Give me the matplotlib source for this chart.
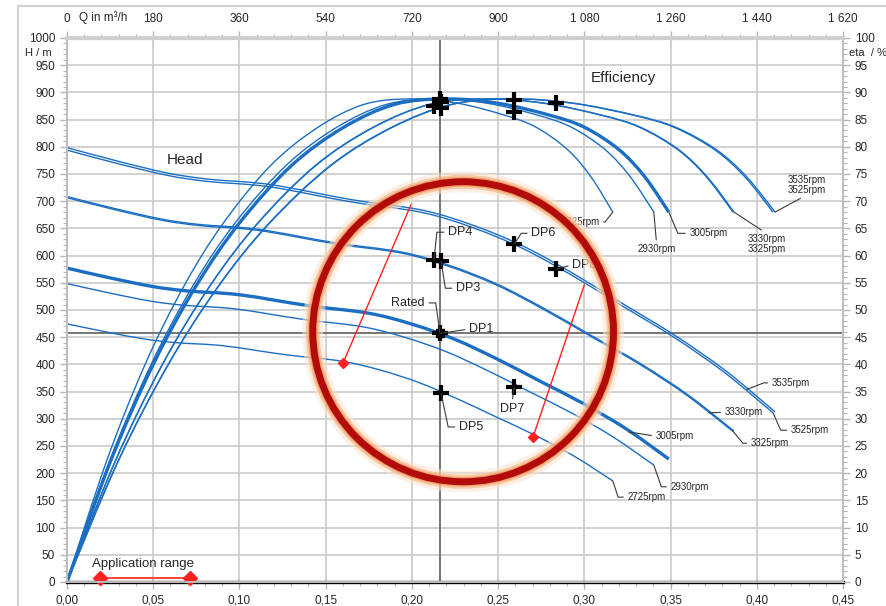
import matplotlib
matplotlib.use('Agg')
import matplotlib.pyplot as plt
import numpy as np
from matplotlib.patches import Ellipse, Rectangle, PathPatch
from matplotlib.path import Path
from matplotlib.ticker import MultipleLocator, FuncFormatter

plt.rcParams['font.family'] = ['Liberation Sans', 'DejaVu Sans']

# --- head curves H(Q), Q in m3/s, H in m ---
qh_2725 = [0, 0.0227, 0.0453, 0.0635, 0.0907, 0.1270, 0.1587, 0.1814, 0.2040, 0.2267, 0.2494, 0.2720, 0.2947, 0.3165]
h_2725 = [474.5, 459.7, 446.5, 439.9, 434.2, 417.7, 406.2, 389.8, 366.7, 336.3, 302.6, 268.9, 230.2, 185.8]
qh_2930 = [0, 0.0244, 0.0488, 0.0683, 0.0975, 0.1365, 0.1706, 0.1950, 0.2194, 0.2438, 0.2681, 0.2925, 0.3169, 0.3403]
h_2930 = [548.6, 531.4, 516.2, 508.6, 502.0, 483.0, 469.6, 450.6, 424.0, 388.8, 349.9, 310.9, 266.2, 214.9]
qh_3005 = [0, 0.025, 0.05, 0.07, 0.10, 0.14, 0.175, 0.20, 0.225, 0.25, 0.275, 0.30, 0.325, 0.349]
h_3005 = [577, 559, 543, 535, 528, 508, 494, 474, 446, 409, 368, 327, 280, 226]
qh_3325 = [0, 0.0277, 0.0553, 0.0775, 0.1107, 0.1549, 0.1936, 0.2213, 0.2490, 0.2766, 0.3043, 0.3320, 0.3596, 0.3862]
h_3325 = [706.4, 684.4, 664.8, 655.0, 646.4, 621.9, 604.8, 580.3, 546.0, 500.7, 450.5, 400.3, 342.8, 276.7]
qh_3330 = [0, 0.0277, 0.0554, 0.0776, 0.1108, 0.1551, 0.1939, 0.2216, 0.2493, 0.2770, 0.3047, 0.3325, 0.3602, 0.3868]
h_3330 = [708.6, 686.5, 666.8, 657.0, 648.4, 623.8, 606.6, 582.1, 547.7, 502.3, 451.9, 401.6, 343.8, 277.5]
qh_3525 = [0, 0.0293, 0.0587, 0.0821, 0.1173, 0.1642, 0.2053, 0.2346, 0.2639, 0.2933, 0.3226, 0.3519, 0.3812, 0.4094]
h_3525 = [793.9, 769.2, 747.2, 736.2, 726.5, 699.0, 679.7, 652.2, 613.7, 562.8, 506.4, 450.0, 385.3, 311.0]
qh_3535 = [0, 0.0294, 0.0588, 0.0824, 0.1176, 0.1647, 0.2059, 0.2353, 0.2647, 0.2941, 0.3235, 0.3529, 0.3823, 0.4106]
h_3535 = [798.5, 773.6, 751.4, 740.4, 730.7, 703.0, 683.6, 655.9, 617.2, 566.0, 509.3, 452.5, 387.5, 312.7]

# --- efficiency curves eta(Q), same eta levels for every speed ---
eta_levels = [0, 22, 40, 54.5, 66, 76.5, 83.5, 87.8, 88.8, 88.0, 85.8, 83.6, 79.5, 74.5, 68]
qe_2725 = [0, 0.0227, 0.0453, 0.0680, 0.0907, 0.1179, 0.1451, 0.1723, 0.1995, 0.2267, 0.2539, 0.2720, 0.2902, 0.3038, 0.3165]
qe_2930 = [0, 0.0244, 0.0488, 0.0731, 0.0975, 0.1268, 0.1560, 0.1853, 0.2145, 0.2438, 0.2730, 0.2925, 0.3120, 0.3266, 0.3403]
qe_3005 = [0, 0.025, 0.05, 0.075, 0.10, 0.13, 0.16, 0.19, 0.22, 0.25, 0.28, 0.30, 0.32, 0.335, 0.349]
qe_3325 = [0, 0.0277, 0.0553, 0.0830, 0.1107, 0.1438, 0.1770, 0.2102, 0.2434, 0.2766, 0.3098, 0.3319, 0.3541, 0.3707, 0.3862]
qe_3330 = [0, 0.0277, 0.0554, 0.0831, 0.1108, 0.1441, 0.1773, 0.2106, 0.2438, 0.2770, 0.3103, 0.3325, 0.3546, 0.3712, 0.3868]
qe_3525 = [0, 0.0293, 0.0587, 0.0880, 0.1173, 0.1525, 0.1877, 0.2229, 0.2581, 0.2933, 0.3285, 0.3519, 0.3754, 0.3930, 0.4094]
qe_3535 = [0, 0.0294, 0.0588, 0.0882, 0.1176, 0.1529, 0.1882, 0.2235, 0.2588, 0.2941, 0.3294, 0.3529, 0.3764, 0.3941, 0.4106]

# --- duty points ---
dp_names = ['DP1', 'DP3', 'DP4', 'DP5', 'DP6', 'DP7', 'DP8']
dp_q = [0.2163, 0.2169, 0.2128, 0.2169, 0.2593, 0.2593, 0.2837]
dp_h = [457, 590, 592, 347, 621, 358, 575]
dp_eta = [88.8, 88.2, 87.5, 87.2, 88.6, 86.4, 88.0]

rated_q = 0.2163
rated_h = 458

# operating range limits (red lines)
lim_left_q = [0.160, 0.1994]
lim_left_h = [402, 693]
lim_right_q = [0.2703, 0.300]
lim_right_h = [267, 546]
app_range_q = [0.0192, 0.0715]
app_range_h = [8, 8]

blue = '#1b6ec2'
grid_c = '#c9c9c9'
tick_c = '#b5b5b5'
txt_c = '#262626'


def smooth_path(xs, ys):
    # smoothed line through the points (like a spreadsheet "smoothed line")
    p = np.column_stack([xs, ys])
    n = len(p)
    verts, codes = [p[0]], [Path.MOVETO]
    for i in range(n - 1):
        p0 = p[i - 1] if i > 0 else p[i]
        p3 = p[i + 2] if i + 2 < n else p[i + 1]
        verts += [p[i] + (p[i + 1] - p0) / 6, p[i + 1] - (p3 - p[i]) / 6, p[i + 1]]
        codes += [Path.CURVE4] * 3
    return Path(verts, codes)


fig = plt.figure(figsize=(8.87, 6.06), dpi=100)
fig.add_artist(Rectangle((18/887, -0.1), 1.2, (600/606) + 0.1, transform=fig.transFigure,
                         fill=False, ec='#d2d2d2', lw=1.5))
ax = fig.add_axes([67/887, 24/606, 776/887, 544/606])
ax.set_xlim(0, 0.45)
ax.set_ylim(0, 1000)
ax2 = ax.twinx()
ax2.set_ylim(0, 100)
ax3 = ax.twiny()
ax3.set_xlim(0, 1620)

ax.set_axisbelow(True)
ax.grid(True, which='major', color=grid_c, lw=1.2)
ax.xaxis.set_major_locator(MultipleLocator(0.05))
ax.xaxis.set_minor_locator(MultipleLocator(0.01))
ax.yaxis.set_major_locator(MultipleLocator(50))
ax.yaxis.set_minor_locator(MultipleLocator(10))
ax.xaxis.set_major_formatter(FuncFormatter(lambda v, p: f'{v:.2f}'.replace('.', ',')))
ax2.yaxis.set_major_locator(MultipleLocator(5))
ax2.yaxis.set_minor_locator(MultipleLocator(1))
ax3.xaxis.set_major_locator(MultipleLocator(180))
ax3.xaxis.set_minor_locator(MultipleLocator(36))
ax3.xaxis.set_major_formatter(FuncFormatter(lambda v, p: f'{int(round(v)):,}'.replace(',', ' ')))

for a in (ax, ax2, ax3):
    a.tick_params(which='both', colors=tick_c, labelcolor=txt_c, labelsize=8.5)
    a.tick_params(which='major', length=5, width=1)
    a.tick_params(which='minor', length=3, width=0.8)
    for s in a.spines.values():
        s.set_color('#bdbdbd')
        s.set_linewidth(1.2)
ax.spines['bottom'].set_color('black')
ax.spines['bottom'].set_linewidth(2.4)
ax3.spines['top'].set_color('#cfcfcf')
ax3.spines['top'].set_linewidth(3)
ax.tick_params(axis='x', pad=4)
ax3.tick_params(axis='x', pad=4)

ax.text(-0.009, 972, 'H / m', ha='right', va='center', fontsize=8, color=txt_c)
ax.text(0.4535, 972, 'eta  / %', ha='left', va='center', fontsize=8, color=txt_c)
ax.text(0.0072, 1037, 'Q in m³/h', ha='left', va='center', fontsize=8.5, color=txt_c)

# reference cross lines through rated point
ax.axvline(rated_q, color='#6a6a6a', lw=1.3, zorder=2)
ax.axhline(rated_h, color='#6a6a6a', lw=1.3, zorder=2)

heads = [(qh_2725, h_2725, 1.0), (qh_2930, h_2930, 1.0), (qh_3005, h_3005, 2.4),
         (qh_3325, h_3325, 1.0), (qh_3330, h_3330, 1.0), (qh_3525, h_3525, 1.0),
         (qh_3535, h_3535, 1.0)]
effs = [(qe_2725, 1.0), (qe_2930, 1.0), (qe_3005, 2.4), (qe_3325, 1.0),
        (qe_3330, 1.0), (qe_3525, 1.0), (qe_3535, 1.0)]
for q, h, lw in heads:
    ax.add_patch(PathPatch(smooth_path(q, h), fill=False, ec=blue, lw=lw, zorder=3,
                           capstyle='butt', joinstyle='round'))
for q, lw in effs:
    ax.add_patch(PathPatch(smooth_path(q, eta_levels), fill=False, ec=blue, lw=lw, zorder=3,
                           capstyle='butt', joinstyle='round', transform=ax2.transData))

# duty point markers on head and efficiency
ax.plot(dp_q, dp_h, ls='none', marker='+', ms=12, mew=3, color='black', zorder=5)
ax.plot(dp_q, dp_eta, ls='none', marker='+', ms=12, mew=3, color='black', zorder=5,
        transform=ax2.transData)
ax.plot([rated_q], [dp_h[0]], ls='none', marker='s', ms=6, color='black', zorder=5)

# red limit lines
for q, h in ((lim_left_q, lim_left_h), (lim_right_q, lim_right_h)):
    ax.plot(q, h, color='#ff2020', lw=1, zorder=4)
    ax.plot(q[0], h[0], ls='none', marker='D', ms=5.5, color='#ff2020', zorder=4)
ax.plot(app_range_q, app_range_h, color='#ff2020', lw=1.2, marker='D', ms=7, zorder=4, clip_on=False)
ax.text(0.0145, 22, 'Application range', fontsize=9.5, color=txt_c, ha='left', va='bottom')

ax.text(0.0686, 776, 'Head', fontsize=11, color=txt_c, ha='center', va='center')
ax.text(0.3227, 926, 'Efficiency', fontsize=11, color=txt_c, ha='center', va='center')


def leader(text, xy, xytext, ha='left', va='center', conn='arc3', relpos=(0, 0.5),
           fs=7, family=('Liberation Sans Narrow', 'Liberation Sans')):
    ax.annotate(text, xy=xy, xytext=xytext, ha=ha, va=va, fontsize=fs, color=txt_c,
                family=list(family), zorder=6, linespacing=1.0,
                arrowprops=dict(arrowstyle='-', color='#3a3a3a', lw=0.8, shrinkA=1, shrinkB=0,
                                relpos=relpos, connectionstyle=conn))


# rpm labels at efficiency ends (H units, eta*10)
leader('2725rpm', (0.3165, 680), (0.3087, 662), ha='right', relpos=(1, 0.5),
       conn='angle,angleA=0,angleB=52,rad=0')
leader('2930rpm', (0.3403, 680), (0.3419, 612), ha='center', relpos=(0.5, 1))
leader('3005rpm', (0.349, 680), (0.3610, 641), conn='angle,angleA=0,angleB=113,rad=0')
leader('3330rpm\n3325rpm', (0.3868, 680), (0.4058, 622), ha='center', relpos=(0.5, 1))
leader('3535rpm\n3525rpm', (0.4106, 680), (0.4291, 730), ha='center', relpos=(0.5, 0))

# rpm labels at head ends
leader('3535rpm', (0.3942, 354), (0.4087, 366), conn='angle,angleA=0,angleB=21,rad=0')
leader('3525rpm', (0.4094, 311), (0.4198, 279), conn='angle,angleA=0,angleB=114,rad=0')
leader('3330rpm', (0.3721, 311), (0.3814, 312))
leader('3325rpm', (0.3862, 277), (0.3965, 255), conn='angle,angleA=0,angleB=130,rad=0')
leader('3005rpm', (0.3256, 276), (0.3413, 268))
leader('2930rpm', (0.3403, 215), (0.3500, 175), conn='angle,angleA=0,angleB=109,rad=0')
leader('2725rpm', (0.3165, 186), (0.3250, 156), conn='angle,angleA=0,angleB=108,rad=0')

# duty point labels
dpf = ('Liberation Sans',)
leader('DP4', (0.2128, 592), (0.2209, 643), fs=9, family=dpf, conn='angle,angleA=0,angleB=84,rad=0')
leader('DP3', (0.2169, 590), (0.2256, 540), fs=9, family=dpf, conn='angle,angleA=0,angleB=99,rad=0')
leader('DP6', (0.2593, 621), (0.2692, 641), fs=9, family=dpf, conn='angle,angleA=0,angleB=57,rad=0')
leader('DP8', (0.2837, 575), (0.2930, 583), fs=9, family=dpf)
leader('DP1', (0.2163, 457), (0.2331, 465), fs=9, family=dpf)
leader('Rated', (0.2163, 457), (0.2076, 513), ha='right', relpos=(1, 0.5), fs=9, family=dpf,
       conn='angle,angleA=0,angleB=98,rad=0')
leader('DP7', (0.2593, 358), (0.2581, 318), ha='center', relpos=(0.5, 1), fs=9, family=dpf)
leader('DP5', (0.2169, 347), (0.2273, 285), fs=9, family=dpf, conn='angle,angleA=0,angleB=102,rad=0')

# highlight circle with glow
cx, cy = 0.2297, 460
w, hgt = 300/1720, 300/0.544
for lw_, col, al in ((15, '#fde3cc', 0.55), (10, '#f6b07a', 0.6), (7, '#e9803e', 0.5), (5, '#b30a0a', 1.0)):
    ax.add_patch(Ellipse((cx, cy), w, hgt, fill=False, ec=col, lw=lw_, alpha=al, zorder=7))

fig.savefig('out.png', dpi=100)
